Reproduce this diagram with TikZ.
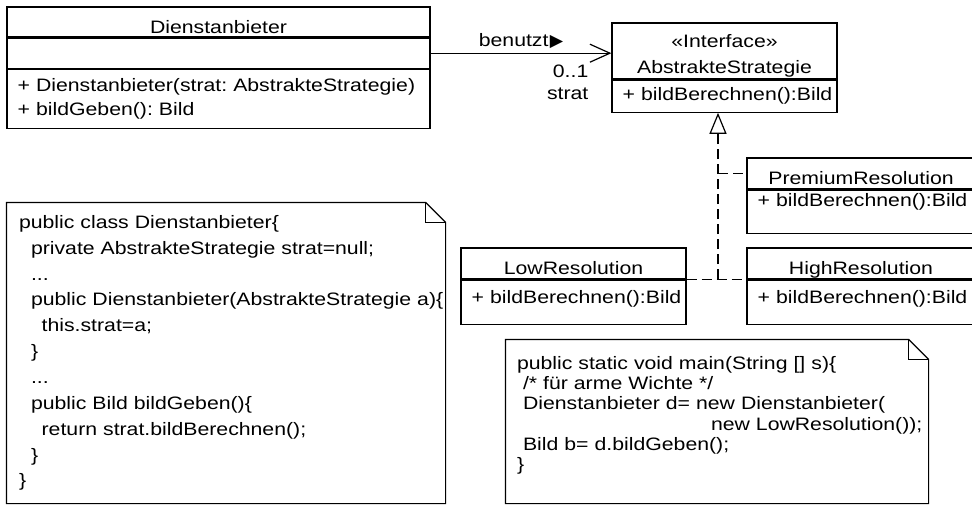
\documentclass[tikz,border=0pt]{standalone}
\usepackage{fontspec}
\setmainfont{Liberation Sans}[FakeStretch=1.18]
\newfontfamily\arrowfont{DejaVu Sans}
\frenchspacing
\usepackage{tikz}
\usetikzlibrary{positioning,arrows.meta}
\tikzstyle{ifacehead} = [rectangle, draw=black, align=center, inner ysep=0pt]
\tikzstyle{classhead} = [ifacehead, text height=17pt, text depth=0pt]
\tikzstyle{classops} = [rectangle, draw=black, align=left, inner xsep=8pt, inner ysep=1pt]
\tikzstyle{codenote} = [rectangle, align=left]
\tikzstyle{uses} = [-{Straight Barb[length=15pt,width=13.5pt]}]
\tikzstyle{realize} = [dash pattern=on 7.5pt off 3.75pt]
\tikzset{
  implements/.style={realize, -{Triangle[open, length=15.75pt, width=12.75pt, fill=white]}},
  codefont/.style={font=\fontsize{13.5pt}{#1}\selectfont}
}

\begin{document}
\begin{tikzpicture}[x=0.75pt, y=-0.75pt, line width=0.9pt, font=\fontsize{13.5pt}{18pt}\selectfont]
  \path[use as bounding box, clip] (0,0) rectangle (972,504);

  % Dienstanbieter
  \node (dname)[classhead, minimum width=317.25pt, minimum height=22.5pt] at (218.5,22) {Dienstanbieter};
  \node (dattr)[classops, minimum width=317.25pt, minimum height=22.5pt, below=0pt of dname] {};
  \node (dops)[classops, text width=301.25pt, minimum height=44.25pt, below=0pt of dattr] {+ Dienstanbieter(strat: AbstrakteStrategie)\\+ bildGeben(): Bild};

  % Interface
  \node (iname)[ifacehead, minimum width=168.75pt, minimum height=42pt, text height=36.2pt, font=\fontsize{13.5pt}{19pt}\selectfont] at (724.5,51) {«Interface»\\AbstrakteStrategie};
  \node (iops)[classops, text width=152.75pt, minimum height=24pt, below=0pt of iname] {\mbox{+ bildBerechnen():Bild}};

  % Strategien
  \node (pname)[classhead, minimum width=171pt, minimum height=23.25pt] at (861,173.5) {PremiumResolution};
  \node (pops)[classops, text width=155pt, minimum height=32.25pt, text depth=17.8pt, below=0pt of pname] {\mbox{+ bildBerechnen():Bild}};
  \node (hname)[classhead, minimum width=171pt, minimum height=23.25pt] at (861,263.5) {HighResolution};
  \node (hops)[classops, text width=155pt, minimum height=33pt, text depth=7.3pt, below=0pt of hname] {\mbox{+ bildBerechnen():Bild}};
  \node (lname)[classhead, minimum width=168.75pt, minimum height=23.25pt] at (573.5,263.5) {LowResolution};
  \node (lops)[classops, text width=152.75pt, minimum height=33pt, text depth=7.3pt, below=0pt of lname] {\mbox{+ bildBerechnen():Bild}};

  % Notizen
  \node (classnote)[codenote, codefont=19.4pt, text width=310.5pt, inner xsep=9pt, minimum height=225pt] at (226,353) {public class Dienstanbieter\{\\
    \hspace*{9pt}private AbstrakteStrategie strat=null;\\
    \hspace*{9pt}...\\
    \hspace*{9pt}\mbox{public Dienstanbieter(AbstrakteStrategie a)\{}\\
    \hspace*{17pt}this.strat=a;\\
    \hspace*{9pt}\}\\
    \hspace*{9pt}...\\
    \hspace*{9pt}public Bild bildGeben()\{\\
    \hspace*{17pt}return strat.bildBerechnen();\\
    \hspace*{9pt}\}\\
    \}};
  \node (mainnote)[codenote, codefont=15.2pt, text width=300pt, inner xsep=8.25pt, minimum height=122.25pt, text depth=88pt] at (717,421.5) {public static void main(String [] s)\{\\
    \hspace*{4.5pt}/* für arme Wichte */\\
    \hspace*{4.5pt}Dienstanbieter d= new Dienstanbieter(\\
    \hspace*{145.5pt}\mbox{new LowResolution());}\\
    \hspace*{4.5pt}Bild b= d.bildGeben();\\
    \}};

  \foreach \n in {classnote, mainnote} {
    \draw (\n.north west) -- ([xshift=-15pt]\n.north east) -- ([yshift=-15pt]\n.north east) -- (\n.south east) -- (\n.south west) -- cycle;
    \draw ([xshift=-15pt]\n.north east) |- ([yshift=-15pt]\n.north east);
  }

  % Beziehungen
  \draw[uses] (dattr.east) -- (dattr.east -| iname.west)
    node[pos=0.5, above] {benutzt\kern1pt{\arrowfont\fontsize{13pt}{13pt}\selectfont ▶}}
    node[pos=1, anchor=north east, xshift=-13.5pt, yshift=-5.25pt, align=right, font=\fontsize{13.5pt}{16.5pt}\selectfont] {0..1\\strat};
  \coordinate (split) at (718,279);
  \draw[realize] (lname.south east) -- (hname.south west);
  \draw[implements] (split) -- (split |- iops.south);
  \draw[realize] (split |- pname.west) -- (pname.west);
\end{tikzpicture}
\end{document}
